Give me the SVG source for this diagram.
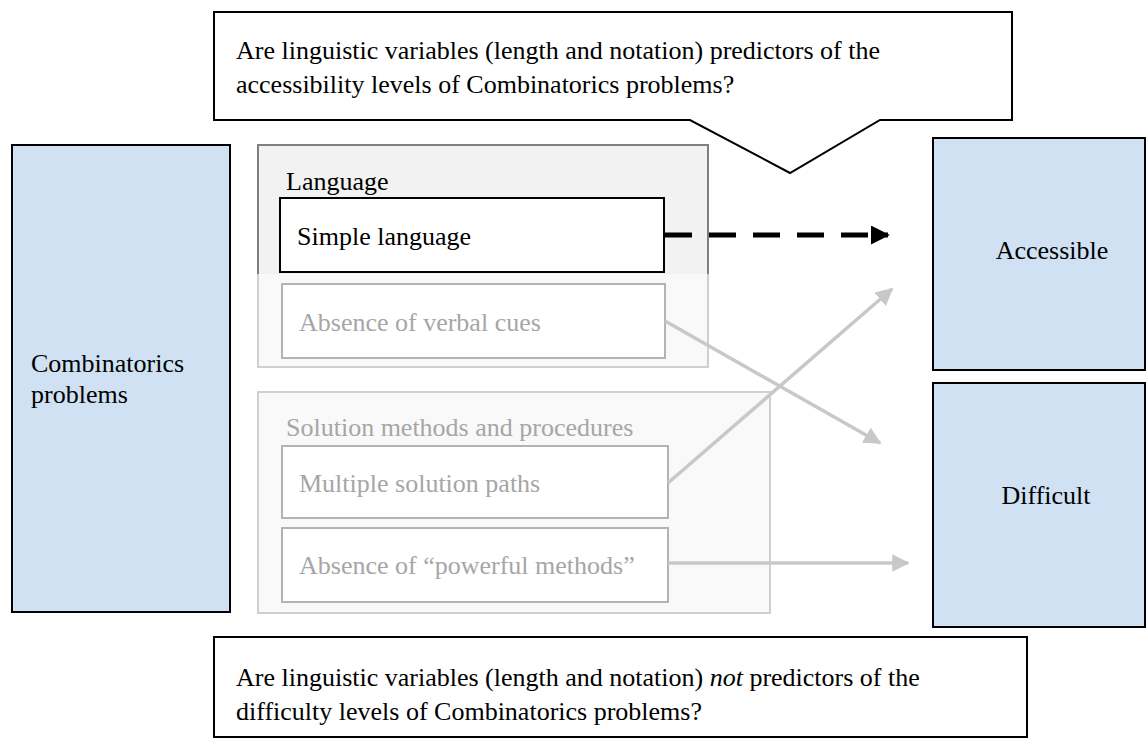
<svg xmlns="http://www.w3.org/2000/svg" width="1147" height="738" viewBox="0 0 1147 738">
  <style>
    text { font-family: "Liberation Serif", "Times New Roman", serif; font-size: 26px; fill: #000; }
    .outcome { fill: #cfe1f2; stroke: #000; stroke-width: 2; }
    .faded-text { fill: #a6a6a6; }
    .faded-box { fill: #fff; stroke: #b3b3b3; stroke-width: 2; }
    .callout { fill: #fff; stroke: #000; stroke-width: 2; }
    .grey-link { stroke: #c8c8c8; stroke-width: 3.5; fill: none; }
  </style>
  <defs>
    <marker id="head-black" viewBox="0 0 10 10" refX="9" refY="5" markerWidth="3.8" markerHeight="3.8" orient="auto" markerUnits="strokeWidth">
      <path d="M0,0 L10,5 L0,10 Z" fill="#000"/>
    </marker>
    <marker id="head-grey" viewBox="0 0 10 10" refX="9" refY="5" markerWidth="5" markerHeight="5" orient="auto" markerUnits="strokeWidth">
      <path d="M0,0 L10,5 L0,10 Z" fill="#c8c8c8"/>
    </marker>
  </defs>

  <!-- top question callout -->
  <g id="question-top">
    <path class="callout" d="M214,12 H1012 V120 H880 L790,173 L690,120 H214 Z"/>
    <text x="236" y="59">Are linguistic variables (length and notation) predictors of the</text>
    <text x="236" y="93">accessibility levels of Combinatorics problems?</text>
  </g>

  <!-- source -->
  <g id="combinatorics-problems">
    <rect class="outcome" x="12" y="145" width="218" height="467"/>
    <text x="31" y="372">Combinatorics</text>
    <text x="31" y="403">problems</text>
  </g>

  <!-- language group: active top, faded bottom -->
  <g id="language-group">
    <rect x="258" y="145" width="450" height="222" fill="#f9f9f9" stroke="#cfcfcf" stroke-width="2"/>
    <path d="M258,274 V145 H708 V274 Z" fill="#f2f2f2" stroke="none"/>
    <path d="M258,274 V145 H708 V274" fill="none" stroke="#7f7f7f" stroke-width="2"/>
    <text x="286" y="190">Language</text>
  </g>
  <g id="simple-language">
    <rect x="280" y="198" width="384" height="74" fill="#fff" stroke="#000" stroke-width="2"/>
    <text x="297" y="245">Simple language</text>
  </g>
  <g id="absence-verbal-cues">
    <rect class="faded-box" x="282" y="284" width="383" height="74"/>
    <text class="faded-text" x="299" y="331">Absence of verbal cues</text>
  </g>

  <!-- solution methods group -->
  <g id="solution-group">
    <rect x="258" y="392" width="512" height="221" fill="#f9f9f9" stroke="#cfcfcf" stroke-width="2"/>
    <text class="faded-text" x="286" y="436">Solution methods and procedures</text>
  </g>
  <g id="multiple-solution-paths">
    <rect class="faded-box" x="282" y="446" width="386" height="72"/>
    <text class="faded-text" x="299" y="492">Multiple solution paths</text>
  </g>
  <g id="absence-powerful-methods">
    <rect class="faded-box" x="282" y="528" width="386" height="74"/>
    <text class="faded-text" x="299" y="574">Absence of “powerful methods”</text>
  </g>

  <!-- outcomes -->
  <g id="accessible">
    <rect class="outcome" x="933" y="138" width="212" height="232"/>
    <text x="1052" y="259" text-anchor="middle">Accessible</text>
  </g>
  <g id="difficult">
    <rect class="outcome" x="933" y="383" width="212" height="244"/>
    <text x="1046" y="504" text-anchor="middle">Difficult</text>
  </g>

  <!-- connectors -->
  <g id="connectors">
    <line x1="665" y1="235" x2="888" y2="235" stroke="#000" stroke-width="5" stroke-dasharray="27 17" marker-end="url(#head-black)"/>
    <line class="grey-link" x1="665" y1="321" x2="880" y2="443" marker-end="url(#head-grey)"/>
    <line class="grey-link" x1="668" y1="483" x2="892" y2="289" marker-end="url(#head-grey)"/>
    <line class="grey-link" x1="668" y1="563" x2="908" y2="563" marker-end="url(#head-grey)"/>
  </g>

  <!-- bottom question callout -->
  <g id="question-bottom">
    <rect class="callout" x="214" y="637" width="813" height="100"/>
    <text x="236" y="686">Are linguistic variables (length and notation) <tspan font-style="italic">not</tspan> predictors of the</text>
    <text x="236" y="720">difficulty levels of Combinatorics problems?</text>
  </g>
</svg>
